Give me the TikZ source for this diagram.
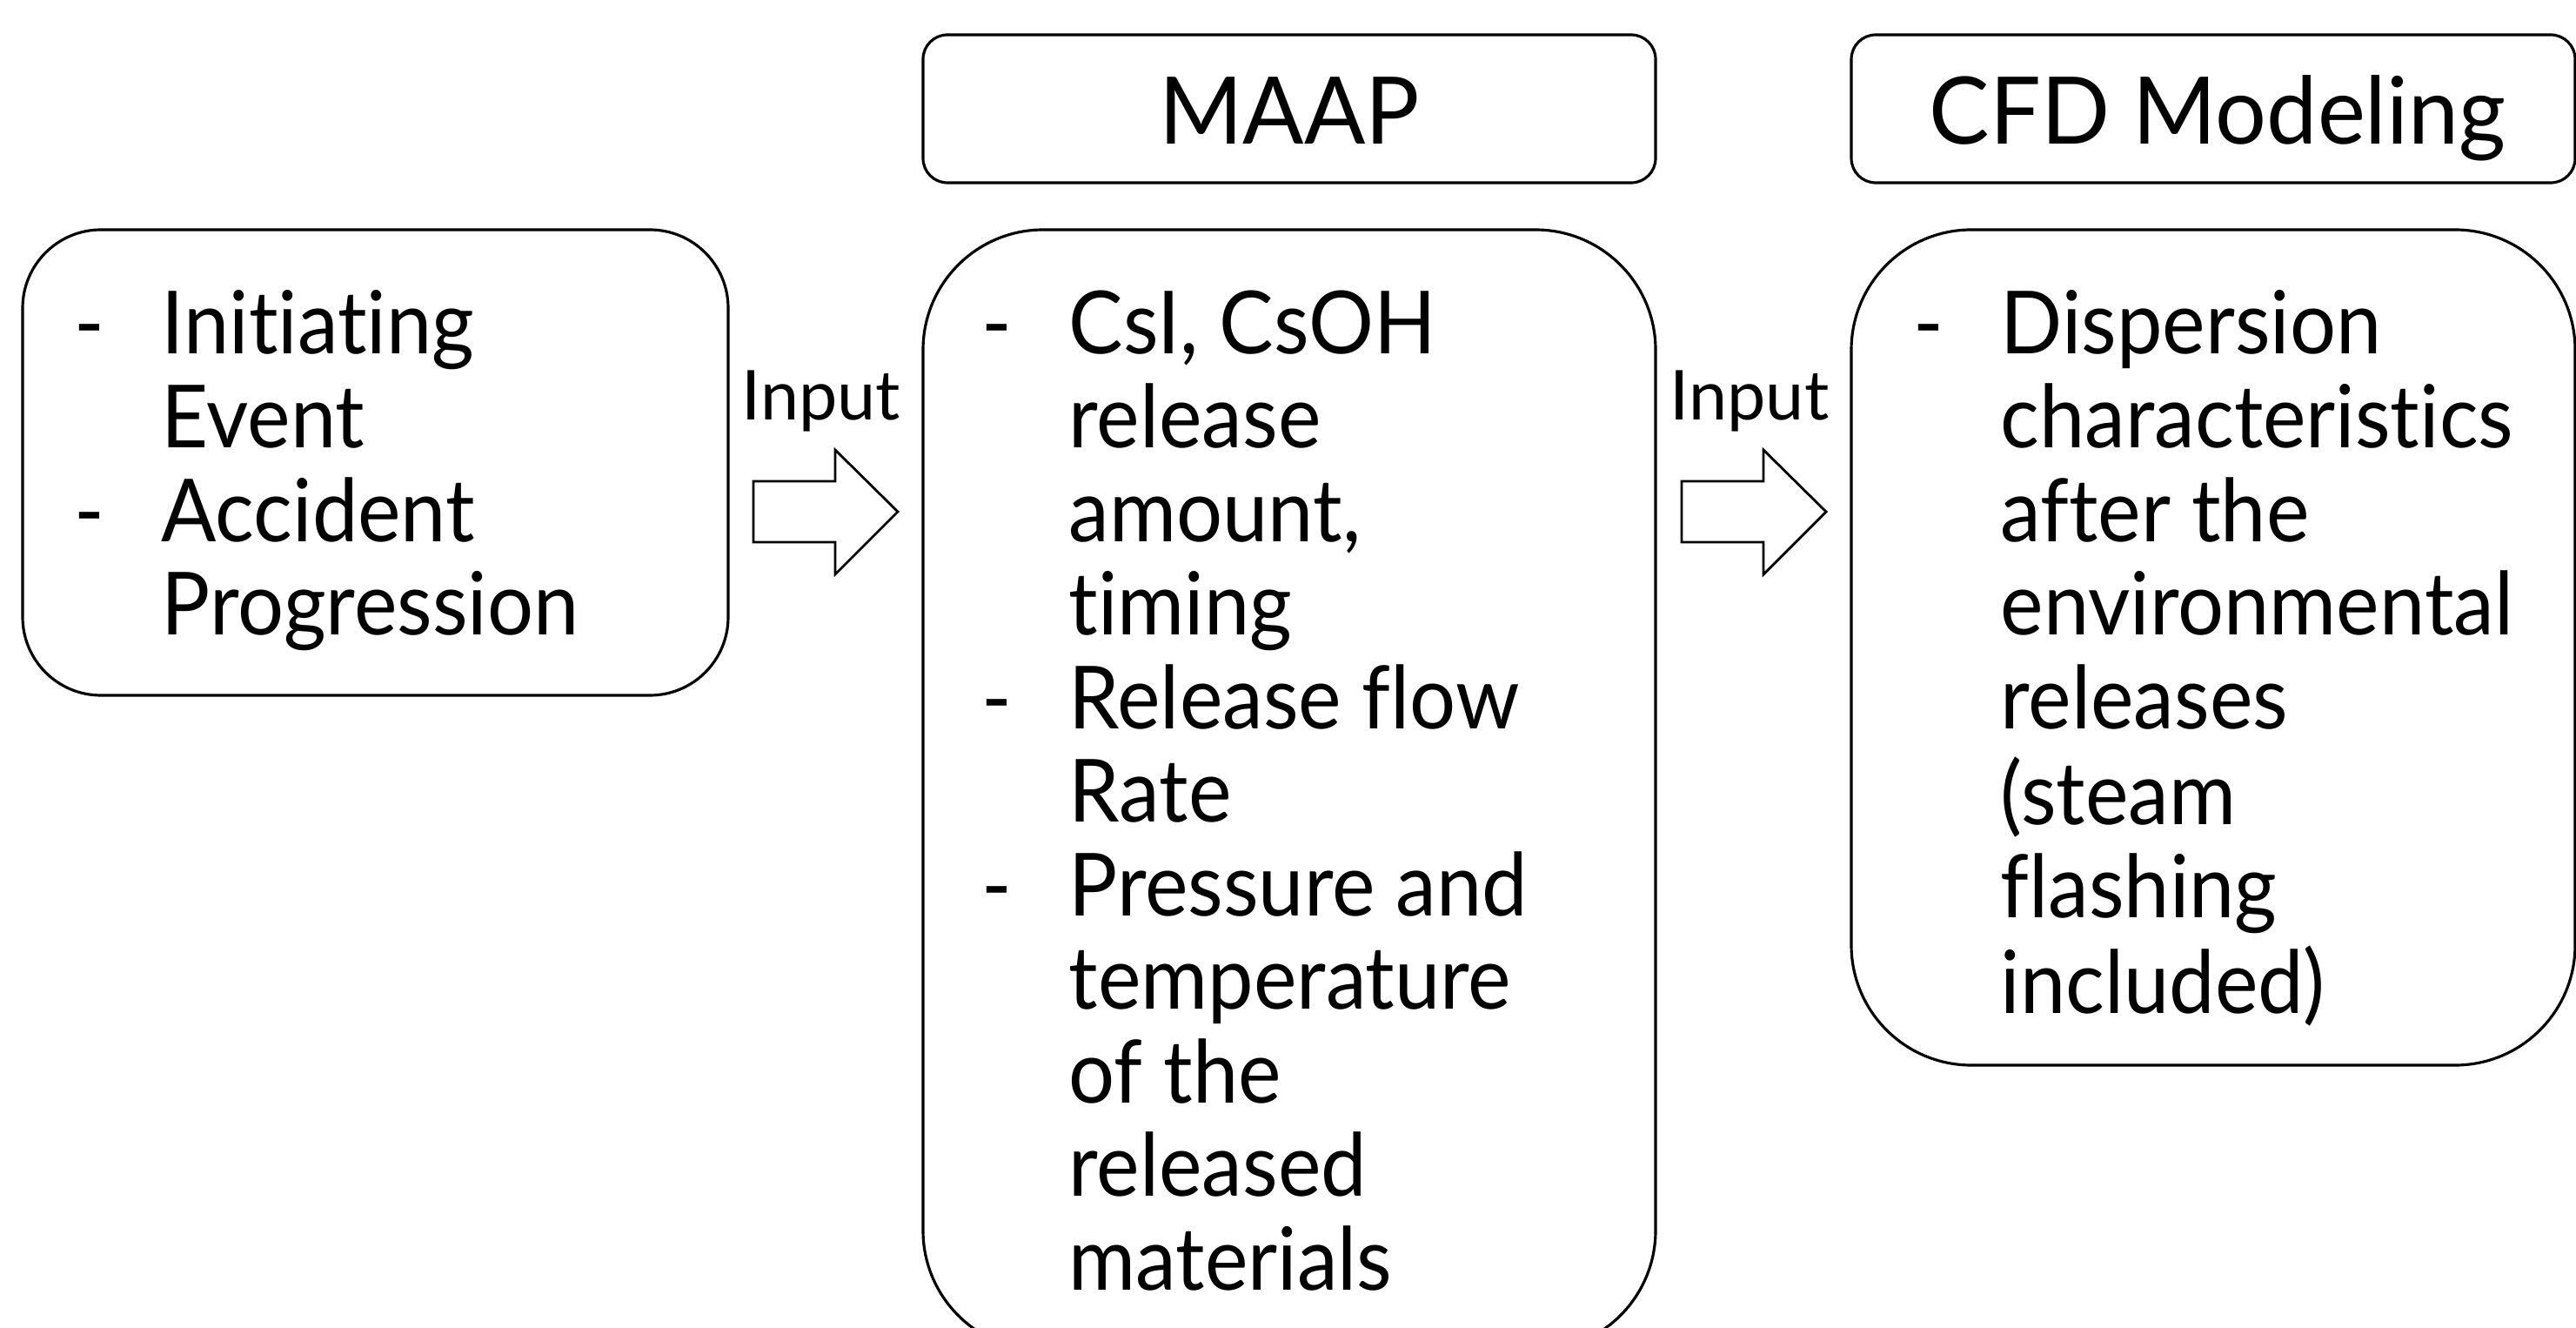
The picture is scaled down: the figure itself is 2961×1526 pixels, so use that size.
\documentclass[tikz,border=0pt]{standalone}
\usepackage{fontspec}
\setmainfont[Ligatures={NoCommon,NoRare,NoContextual}]{Lato}
\newfontfamily\bodyfont[Ligatures={NoCommon,NoRare,NoContextual},FakeStretch=0.935]{Lato}
\newfontfamily\headfont[Ligatures={NoCommon,NoRare,NoContextual},FakeStretch=0.97]{Lato}
\newcommand{\dashcol}{\begin{tabular}{@{}p{10mm}@{}l@{}}}
\begin{document}
\begin{tikzpicture}[x=0.1mm,y=-0.1mm,
  box/.style={draw=black, line width=0.9pt, fill=white, inner sep=0pt},
  bigbox/.style={box, rounded corners=13.8mm},
  headbox/.style={box, rounded corners=2.8mm},
  bodytext/.style={anchor=north west, inner sep=0pt, font=\bodyfont\fontsize{28.5}{30.6}\selectfont},
  headtext/.style={anchor=base, inner sep=0pt, font=\headfont\fontsize{30.5}{36}\selectfont},
  inputtext/.style={anchor=base, inner sep=0pt, font=\fontsize{22.5}{27}\selectfont},
  blockarrow/.style={draw=black, line width=0.8pt, fill=white, line join=miter}]
\useasboundingbox[fill=white] (0,0) rectangle (2961,1526);

% boxes
\node[box, rounded corners=9mm, minimum width=81.1mm, minimum height=53.5mm] (init) at (431.5,531.5) {};
\node[headbox, minimum width=84.2mm, minimum height=17mm] (maaphead) at (1482,125) {};
\node[bigbox, minimum width=84.2mm, minimum height=128.8mm] (maap) at (1482,908) {};
\node[headbox, minimum width=83.2mm, minimum height=17mm] (cfdhead) at (2544,125) {};
\node[bigbox, minimum width=83.2mm, minimum height=96mm] (cfd) at (2544,744) {};

% header texts
\node[headtext] (maaplabel) at (1482,166) {MAAP};
\node[headtext] (cfdlabel) at (2549,166) {CFD Modeling};

% body texts
\node[bodytext] (inittext) at (85,331) {\dashcol
- & Initiating\\
  & Event\\
- & Accident\\
  & Progression
\end{tabular}};

\node[bodytext] (maaptext) at (1128,331) {\dashcol
- & CsI, CsOH\\
  & release\\
  & amount,\\
  & timing\\
- & Release flow\\
  & Rate\\
- & Pressure and\\
  & temperature\\
  & of the\\
  & released\\
  & materials
\end{tabular}};

\node[bodytext] (cfdtext) at (2199,331) {\dashcol
- & Dispersion\\
  & characteristics\\
  & after the\\
  & environmental\\
  & releases\\
  & (steam\\
  & flashing\\
  & included)
\end{tabular}};

% input labels
\node[inputtext] (input1) at (944,483) {Input};
\node[inputtext] (input2) at (2011,483) {Input};

% block arrows
\draw[blockarrow] (866,553) -- (960,553) -- (960,517) -- (1032,588) -- (960,660) -- (960,623) -- (866,623) -- cycle;
\draw[blockarrow] (1933,553) -- (2027,553) -- (2027,517) -- (2099,588) -- (2027,660) -- (2027,623) -- (1933,623) -- cycle;
\end{tikzpicture}
\end{document}
